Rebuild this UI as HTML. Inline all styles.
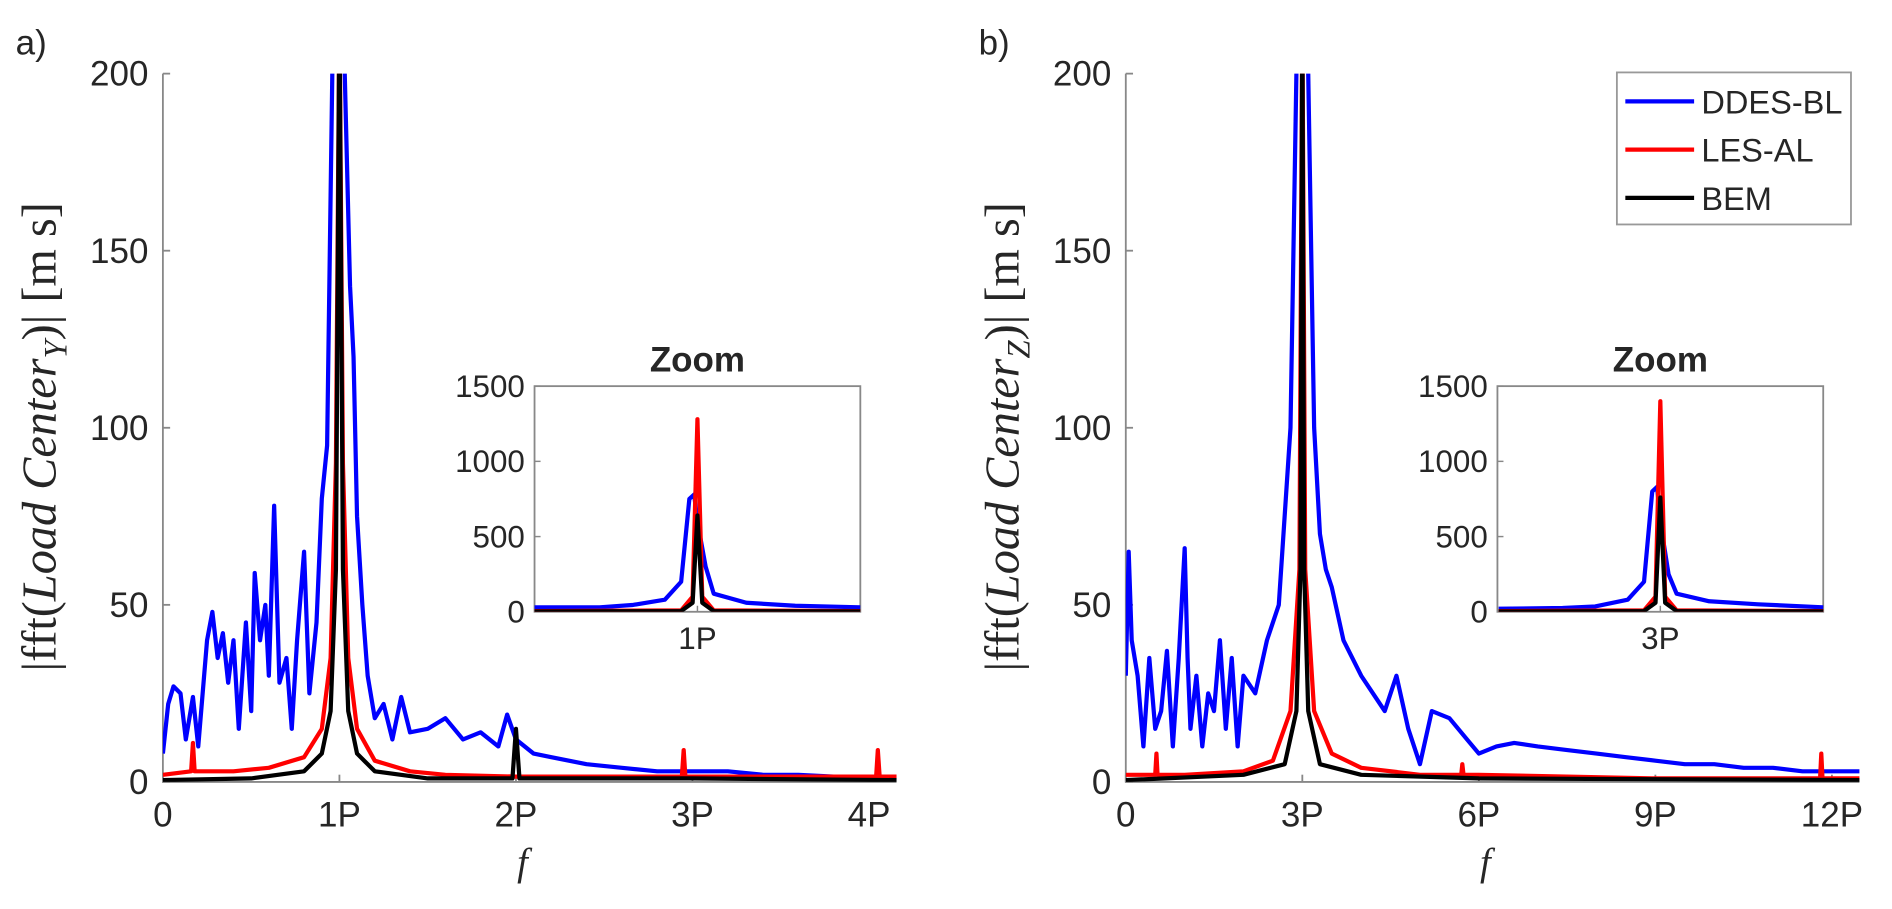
<!DOCTYPE html>
<html><head><meta charset="utf-8"><style>
body{margin:0;background:#fff}
svg text{font-family:"Liberation Sans",sans-serif;fill:#262626}
.ser{font-family:"Liberation Serif",serif}
</style></head><body>
<svg id="c" width="1892" height="909" viewBox="0 0 1568 753.3" xmlns="http://www.w3.org/2000/svg" style="display:block">
<defs>
<clipPath id="cpA"><rect x="135" y="61" width="608" height="587"/></clipPath>
<clipPath id="cpB"><rect x="933" y="61" width="608" height="587"/></clipPath>
<clipPath id="ciA"><rect x="443" y="320" width="270" height="187"/></clipPath>
<clipPath id="ciB"><rect x="1242" y="320" width="270" height="187"/></clipPath>
</defs>
</svg>
<script>
// Panel a (x in P units, y values)
const aBlueX=[0,0.03,0.06,0.1,0.13,0.17,0.2,0.25,0.28,0.31,0.34,0.37,0.4,0.43,0.47,0.5,0.52,0.55,0.58,0.6,0.63,0.66,0.7,0.73,0.76,0.8,0.83,0.87,0.9,0.93,0.96,0.99,1.03,1.06,1.08,1.1,1.13,1.16,1.2,1.25,1.3,1.35,1.4,1.5,1.6,1.7,1.8,1.9,1.95,2.0,2.1,2.2,2.4,2.6,2.8,3.0,3.2,3.4,3.6,3.8,4.0,4.16];
const aBlueY=[8,22,27,25,12,24,10,40,48,35,42,28,40,15,45,20,59,40,50,30,78,28,35,15,40,65,25,45,80,95,200,220,200,140,120,75,50,30,18,22,12,24,14,15,18,12,14,10,19,12,8,7,5,4,3,3,3,2,2,1.5,1.5,1];
const aRedX=[0,0.16,0.17,0.18,0.4,0.6,0.8,0.9,0.95,0.98,1.0,1.02,1.05,1.1,1.2,1.4,1.6,2,2.94,2.95,2.96,3.5,4.04,4.05,4.06,4.16];
const aRedY=[2,3,11,3,3,4,7,15,35,90,220,90,35,15,6,3,2,1.5,1.5,9,1.5,1.5,1.5,9,1.5,1.5];
const aBlkX=[0,0.5,0.8,0.9,0.95,0.98,1.0,1.02,1.05,1.1,1.2,1.5,1.98,2.0,2.02,3,4.16];
const aBlkY=[0.5,1,3,8,20,60,220,60,20,8,3,1,1,15,1,1,0.5];
// Panel a inset (relative x around 1P, -1..1)
const aiBlueX=[-1,-0.6,-0.4,-0.2,-0.1,-0.05,-0.02,0,0.05,0.1,0.3,0.6,1];
const aiBlueY=[30,30,45,80,200,750,780,600,300,120,60,40,30];
const aiRedX=[-1,-0.1,-0.03,0,0.03,0.1,1];
const aiRedY=[5,10,100,1280,100,10,5];
const aiBlkX=[-1,-0.1,-0.03,0,0.03,0.1,1];
const aiBlkY=[2,5,60,640,60,5,2];
// Panel b
const bBlueX=[0,0.05,0.1,0.2,0.3,0.4,0.5,0.6,0.7,0.8,0.9,1.0,1.05,1.1,1.2,1.3,1.4,1.5,1.6,1.7,1.8,1.9,2.0,2.2,2.4,2.6,2.8,2.9,3.0,3.1,3.2,3.3,3.4,3.5,3.7,4.0,4.2,4.4,4.6,4.8,5.0,5.2,5.5,5.8,6.0,6.3,6.6,7,7.5,8,8.5,9,9.5,10,10.5,11,11.5,12,12.5];
const bBlueY=[30,65,40,30,10,35,15,20,37,10,35,66,35,15,30,10,25,20,40,15,35,10,30,25,40,50,100,200,220,200,100,70,60,55,40,30,25,20,30,15,5,20,18,12,8,10,11,10,9,8,7,6,5,5,4,4,3,3,3];
const bRedX=[0,0.5,0.52,0.54,1,2,2.5,2.8,2.95,3.0,3.05,3.2,3.5,4,5,5.7,5.72,5.74,6,9,11.8,11.82,11.84,12.5];
const bRedY=[2,2,8,2,2,3,6,20,60,220,60,20,8,4,2,2,5,2,2,1,1,8,1,1];
const bBlkX=[0,2,2.7,2.9,2.97,3.0,3.03,3.1,3.3,4,6,12.5];
const bBlkY=[0.5,2,5,20,60,220,60,20,5,2,1,0.5];
const biBlueX=[-1,-0.6,-0.4,-0.2,-0.1,-0.05,-0.02,0,0.05,0.1,0.3,0.6,1];
const biBlueY=[20,25,35,80,200,800,830,600,250,120,70,50,30];
const biRedX=[-1,-0.1,-0.03,0,0.03,0.1,1];
const biRedY=[5,10,100,1400,100,10,5];
const biBlkX=[-1,-0.1,-0.03,0,0.03,0.1,1];
const biBlkY=[2,5,60,760,60,5,2];
const yTicks=[0,50,100,150,200];
const iyTicks=[0,500,1000,1500];
const aXTicks=["0","1P","2P","3P","4P"];
const bXTicks=["0","3P","6P","9P","12P"];

const svg=document.getElementById('c');
const NS='http://www.w3.org/2000/svg';
function mk(tag,attrs,parent){const e=document.createElementNS(NS,tag);for(const k in attrs)e.setAttribute(k,attrs[k]);(parent||svg).appendChild(e);return e;}
function txt(s,x,y,size,anchor,extra){const t=mk('text',Object.assign({x:x,y:y,'font-size':size,'text-anchor':anchor||'middle'},extra||{}));t.textContent=s;return t;}
const P=146.3;
function panel(id,x0,xs,bx,by,rx,ry,kx,ky,ticks,tickStep,iblX,iblY,irX,irY,ikX,ikY,iLabel,label,ylabSub){
  const g=mk('g',{});
  
  
  const X=v=>x0+v*xs, Y=v=>648-v*(587/200);
  const ax=mk('path',{d:`M${x0} 61V648H${x0+608}`,stroke:'#888',fill:'none','stroke-width':1.5},g);
  
  
  yTicks.forEach(v=>{mk('line',{x1:x0,x2:x0+6,y1:Y(v),y2:Y(v),stroke:'#888','stroke-width':1.5},g);
    const t=txt(String(v),x0-12,Y(v)+10,29,'end',{});});
  ticks.forEach((s,i)=>{const xp=x0+i*P;mk('line',{x1:xp,x2:xp,y1:648,y2:642,stroke:'#888','stroke-width':1.5},g);
    const t=txt(s,xp,685,29);});
  const line=(xsArr,ysArr,col,fx,fy,clip,nm)=>{const d=xsArr.map((v,i)=>(i?'L':'M')+fx(v).toFixed(1)+' '+fy(ysArr[i]).toFixed(1)).join('');
    const p=mk('path',{d:d,stroke:col,fill:'none','stroke-width':3.5,'stroke-linejoin':'round','clip-path':`url(#${clip})`},g);
    };
  line(bx,by,'#0000ff',X,Y,'cp'+id,'series-ddes-bl-'+id);
  line(rx,ry,'#ff0000',X,Y,'cp'+id,'series-les-al-'+id);
  line(kx,ky,'#000',X,Y,'cp'+id,'series-bem-'+id);
  const lx=x0-89, ly=362;
  const yl=txt('',lx,ly,40,'middle',{transform:`rotate(-90 ${lx} ${ly})`,class:'ser'});
  yl.innerHTML=`|fft(<tspan font-style="italic">Load Center</tspan><tspan font-style="italic" font-size="27" dy="9">${ylabSub}</tspan><tspan dy="-9">)| [m s]</tspan>`;
  
  const xl=txt('f',x0+298,725,32,'middle',{class:'ser','font-style':'italic'});
  
  const pl=txt(label,x0-122,45,29,'start');
  const ix0=x0+308, IX=v=>ix0+135+v*135, IY=v=>507-v*(187/1500);
  mk('rect',{x:ix0,y:320,width:270,height:187,fill:'#fff',stroke:'#888','stroke-width':1.5},g);
  iyTicks.forEach(v=>{mk('line',{x1:ix0,x2:ix0+5,y1:IY(v),y2:IY(v),stroke:'#888','stroke-width':1.2},g);
    const t=txt(String(v),ix0-8,IY(v)+9,26,'end');});
  mk('line',{x1:ix0+135,x2:ix0+135,y1:507,y2:502,stroke:'#888','stroke-width':1.2},g);
  const it=txt(iLabel,ix0+135,538,26);
  const zt=txt('Zoom',ix0+135,308,29,'middle',{'font-weight':'bold',fill:'#000'});
  line(iblX,iblY,'#0000ff',IX,IY,'ci'+id,'inset-ddes-bl-'+id);
  line(irX,irY,'#ff0000',IX,IY,'ci'+id,'inset-les-al-'+id);
  line(ikX,ikY,'#000',IX,IY,'ci'+id,'inset-bem-'+id);
}
panel('A',135,P,aBlueX,aBlueY,aRedX,aRedY,aBlkX,aBlkY,aXTicks,1,aiBlueX,aiBlueY,aiRedX,aiRedY,aiBlkX,aiBlkY,'1P','a)','Y');
panel('B',933,P/3,bBlueX,bBlueY,bRedX,bRedY,bBlkX,bBlkY,bXTicks,3,biBlueX,biBlueY,biRedX,biRedY,biBlkX,biBlkY,'3P','b)','Z');
const lg=mk('g',{});


mk('rect',{x:1340,y:60,width:194,height:126,fill:'#fff',stroke:'#999','stroke-width':1.5},lg);
[['DDES-BL','#0000ff'],['LES-AL','#ff0000'],['BEM','#000']].forEach((e,i)=>{const y=84+i*40;
  const l=mk('line',{x1:1347,x2:1404,y1:y,y2:y,stroke:e[1],'stroke-width':3.5},lg);
  
  const t=txt(e[0],1410,y+10,27,'start',{fill:'#000'});lg.appendChild(t);
  });
</script>
</body></html>
